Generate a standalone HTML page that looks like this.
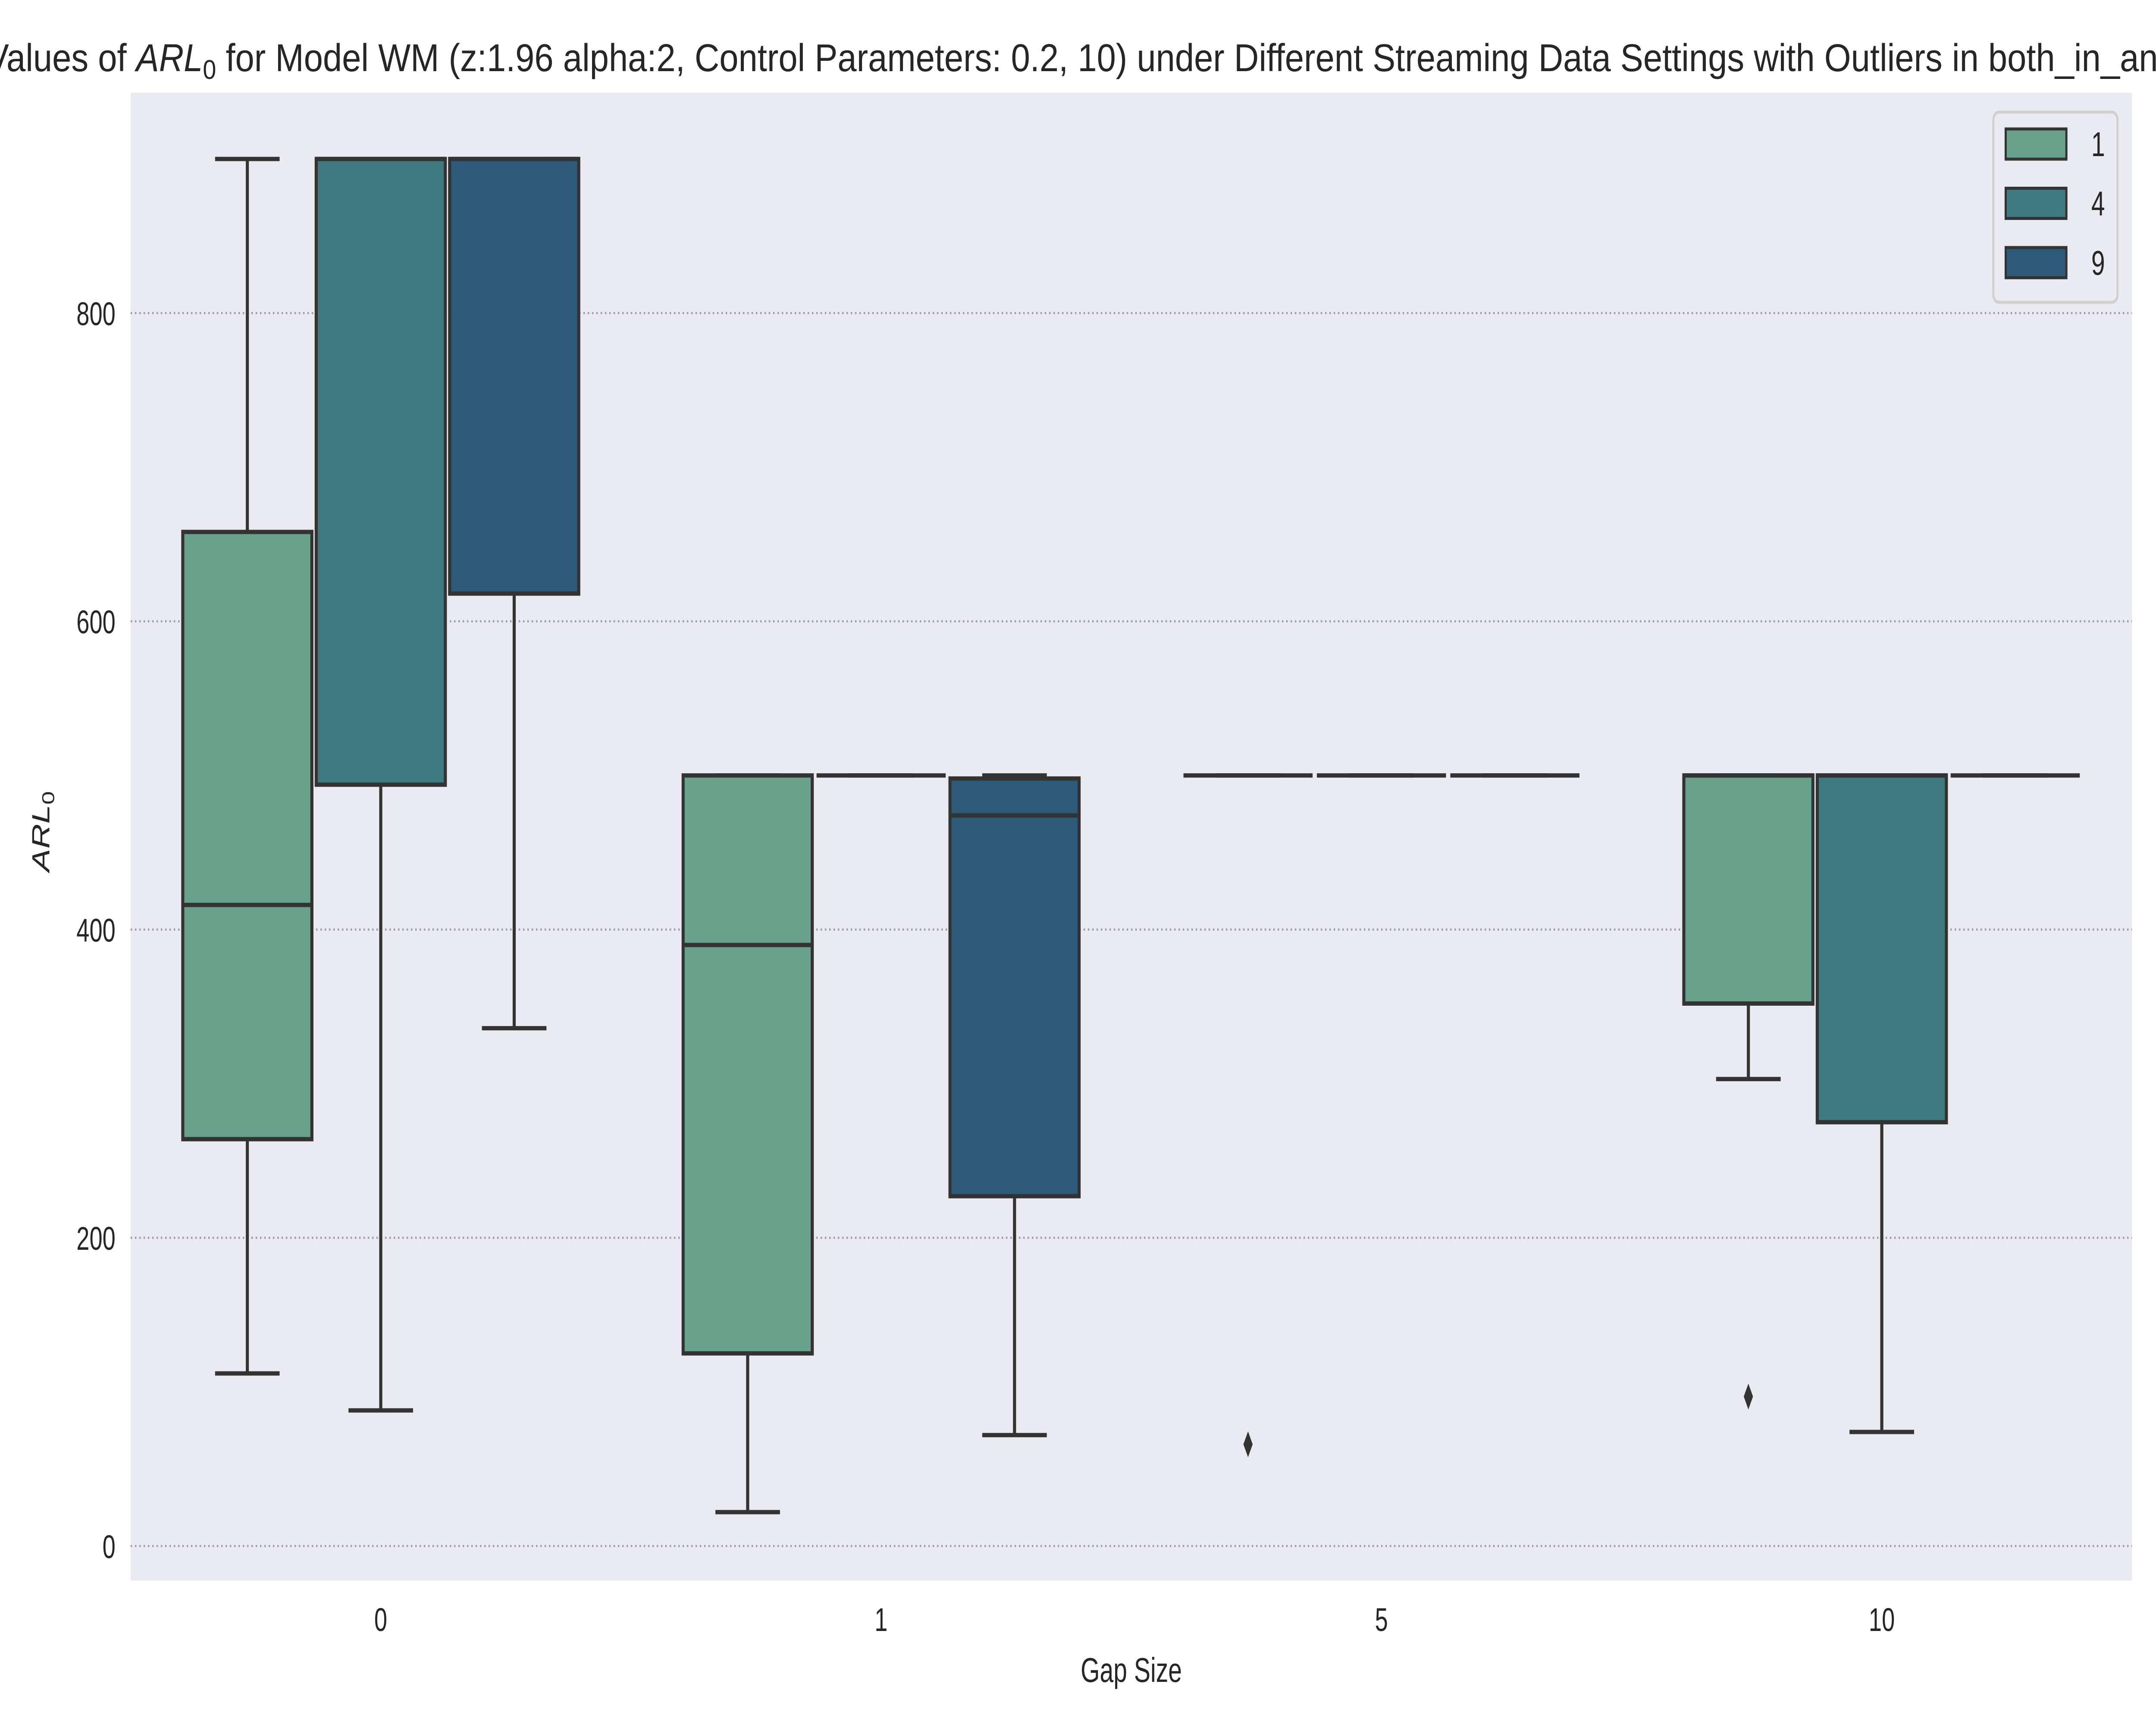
<!DOCTYPE html>
<html><head><meta charset="utf-8"><style>
html,body{margin:0;padding:0;background:#fff;width:100%;height:100%;overflow:hidden}
svg{display:block;width:100vw;height:100vh}
text{font-family:"Liberation Sans",Arial,sans-serif;fill:#262626}
</style></head><body>
<svg id="chart" viewBox="0 0 7000 4000" preserveAspectRatio="none" xmlns="http://www.w3.org/2000/svg">
<rect x="424" y="215" width="6498" height="3450" fill="#eaeaf2"/>
<g id="grid"></g>
<g id="boxes"></g>
<g id="yticks"></g>
<g id="xticks"></g>
<text x="-45" y="165" text-anchor="start" font-size="90" textLength="7330" lengthAdjust="spacingAndGlyphs">Values of <tspan font-style="italic">ARL</tspan><tspan font-size="63" dy="18">0</tspan><tspan dy="-18"> for Model WM (z:1.96 alpha:2, Control Parameters: 0.2, 10) under Different Streaming Data Settings with Outliers in both_in_and_out</tspan></text>
<text transform="translate(160,1928) rotate(-90)" text-anchor="middle" font-size="80"><tspan font-style="italic">ARL</tspan><tspan font-size="56" dy="16">0</tspan></text>
<text x="3673" y="3900" text-anchor="middle" font-size="80">Gap Size</text>
<g id="legend">
<rect x="6472" y="260" width="403" height="441" rx="18" fill="#eaeaf2" stroke="#d0d0d0" stroke-width="7"/>
</g>
</svg>
<script>
const categories = ["0", "1", "5", "10"];
const hues = ["1", "4", "9"];
const hueColors = ["#69a28c", "#3e7a80", "#2c5a78"];
// [whiskerLow, q1, median, q3, whiskerHigh] per category for each hue
const seriesH1 = [[112,264,416,658,900],[22,125,390,500,500],[500,500,500,500,500],[303,352,500,500,500]];
const seriesH4 = [[88,494,900,900,900],[500,500,500,500,500],[500,500,500,500,500],[74,275,500,500,500]];
const seriesH9 = [[336,618,900,900,900],[72,227,474,498,500],[500,500,500,500,500],[500,500,500,500,500]];
const outliersH1 = [[],[],[66],[97]];
const outliersH4 = [[],[],[],[]];
const outliersH9 = [[],[],[],[]];
const yTicks = [0,200,400,600,800];

const NS = "http://www.w3.org/2000/svg";
const series = [seriesH1, seriesH4, seriesH9];
const outliers = [outliersH1, outliersH4, outliersH9];
const X0 = 424, X1 = 6922, Y0 = 215, Y1 = 3665;
function yScale(v){ return 3585 - v * (3585 - 726) / 800; }
const catStep = (X1 - X0) / categories.length;
function xCat(i){ return X0 + catStep * (i + 0.5); }
const boxW = catStep * 0.8 / hues.length;
function xBox(i, h){ return xCat(i) + (h - 1) * boxW; }
function mk(tag, attrs, parent){ const e = document.createElementNS(NS, tag); for (const k in attrs) e.setAttribute(k, attrs[k]); parent.appendChild(e); return e; }

const grid = document.getElementById('grid');
const yt = document.getElementById('yticks');
yTicks.forEach(v => {
  const l = mk('line', {x1:X0, x2:X1, y1:yScale(v), y2:yScale(v), stroke:'#a0a0a0', 'stroke-width':5, 'stroke-dasharray':'5 9'}, grid);
  
  
  const t = mk('text', {x:375, y:yScale(v)+28, 'text-anchor':'end', 'font-size':76}, yt);
  t.textContent = v;
  
  
});
const xt = document.getElementById('xticks');
categories.forEach((c, i) => {
  const t = mk('text', {x:xCat(i), y:3782, 'text-anchor':'middle', 'font-size':76}, xt);
  t.textContent = c;
  
  
});

const boxes = document.getElementById('boxes');
const EC = '#333333', LW = 10;
series.forEach((s, h) => {
  s.forEach((d, i) => {
    const g = mk('g', {}, boxes);
    
    
    const cx = xBox(i, h), w = boxW - 14, left = cx - w/2;
    mk('line', {x1:cx, x2:cx, y1:yScale(d[0]), y2:yScale(d[1]), stroke:EC, 'stroke-width':LW}, g);
    mk('line', {x1:cx, x2:cx, y1:yScale(d[3]), y2:yScale(d[4]), stroke:EC, 'stroke-width':LW}, g);
    mk('line', {x1:cx-w/4, x2:cx+w/4, y1:yScale(d[0]), y2:yScale(d[0]), stroke:EC, 'stroke-width':LW}, g);
    mk('line', {x1:cx-w/4, x2:cx+w/4, y1:yScale(d[4]), y2:yScale(d[4]), stroke:EC, 'stroke-width':LW}, g);
    mk('rect', {x:left, y:yScale(d[3]), width:w, height:Math.max(0, yScale(d[1]) - yScale(d[3])), fill:hueColors[h], stroke:EC, 'stroke-width':LW}, g);
    mk('line', {x1:left, x2:left+w, y1:yScale(d[2]), y2:yScale(d[2]), stroke:EC, 'stroke-width':LW}, g);
    outliers[h][i].forEach(v => {
      const y = yScale(v);
      const o = mk('path', {d:`M${cx} ${y-30} L${cx+15} ${y} L${cx} ${y+30} L${cx-15} ${y} Z`, fill:EC}, g);
      
      
    });
  });
});

const leg = document.getElementById('legend');
hues.forEach((hl, h) => {
  const y = 299 + h * 137.5;
  const r = mk('rect', {x:6512, y:y, width:197, height:70, fill:hueColors[h], stroke:EC, 'stroke-width':7}, leg);
  
  
  const t = mk('text', {x:6812, y:y+63, 'text-anchor':'middle', 'font-size':80}, leg);
  t.textContent = hl;
  
  
});
</script>
</body></html>
